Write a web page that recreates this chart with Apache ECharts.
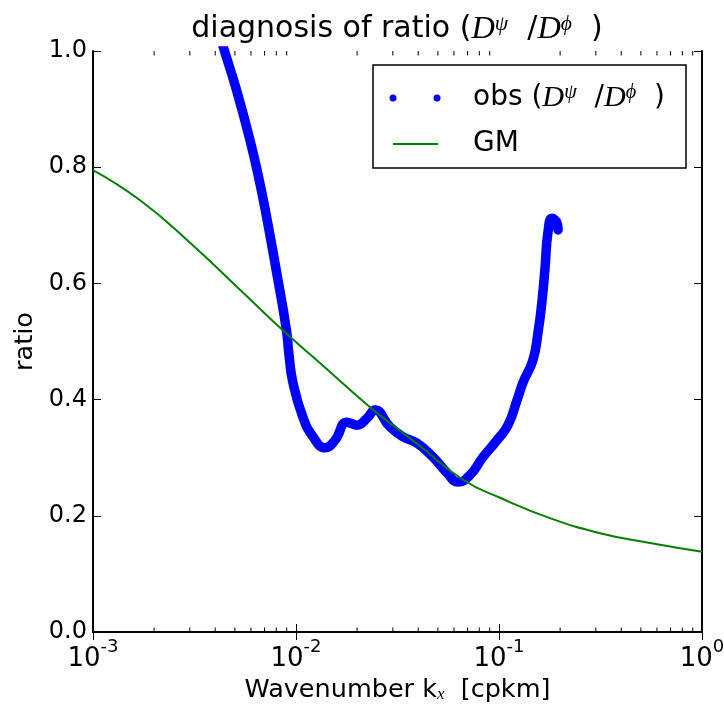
<!DOCTYPE html>
<html><head><meta charset="utf-8">
<script src="https://cdn.jsdelivr.net/npm/echarts@6/dist/echarts.min.js"></script>
<style>html,body{margin:0;padding:0;background:#fff}#c{width:724px;height:710px}</style>
</head><body><div id="c"></div>
<script>
// observed ratio D^psi / D^phi
const obsK = [0.00427,0.00447,0.005091,0.00593,0.006587,0.007212,0.008034,0.008968,0.00925,0.00966,0.01081,0.01213,0.0139,0.01556,0.01782,0.01995,0.0224,0.02449,0.02904,0.03365,0.03945,0.04731,0.05546,0.06281,0.07194,0.08337,0.09772,0.1107,0.1227,0.1312,0.1469,0.1556,0.163,0.1687,0.1741,0.1824,0.1932,0.1954];
const obsRatio = [1.02,0.997,0.933,0.847,0.778,0.709,0.618,0.52,0.475,0.429,0.37,0.336,0.317,0.33,0.361,0.356,0.368,0.382,0.353,0.336,0.325,0.301,0.274,0.258,0.27,0.301,0.33,0.356,0.399,0.429,0.468,0.515,0.571,0.628,0.687,0.712,0.704,0.692];
// GM model
const gmK = [0.001,0.001706,0.003006,0.005297,0.009141,0.01312,0.02317,0.0408,0.06653,0.1012,0.1782,0.3148,0.5546,1.0];
const gmRatio = [0.795,0.743,0.670,0.589,0.511,0.463,0.387,0.32,0.262,0.231,0.196,0.170,0.153,0.138];
// ticks
const yTicks = [0.0,0.2,0.4,0.6,0.8,1.0];
const xMin = 0.001, xMax = 1;
const minorK = [2e-3,3e-3,4e-3,5e-3,6e-3,7e-3,8e-3,9e-3,2e-2,3e-2,4e-2,5e-2,6e-2,7e-2,8e-2,9e-2,2e-1,3e-1,4e-1,5e-1,6e-1,7e-1,8e-1,9e-1];

const FF = 'DejaVu Sans';
const SERIF = 'Liberation Serif';
const chart = echarts.init(document.getElementById('c'), null, {renderer:'canvas'});

const mathRich = (fs) => ({
  t:{fontFamily:FF,fontSize:fs,color:'#000'},
  d:{fontFamily:SERIF,fontStyle:'italic',fontSize:fs*1.08,color:'#000'},
  s:{fontFamily:SERIF,fontStyle:'italic',fontSize:fs*0.72,color:'#000',verticalAlign:'top'}
});

const axisLineStyle = {color:'#000', width:2};
chart.setOption({
  animation:false,
  grid:{left:93,right:22,top:51,bottom:78,containLabel:false,outerBoundsMode:'none'},
  xAxis:[{
    type:'log', logBase:10, min:xMin, max:xMax,
    name:'{t|Wavenumber k}{x|x}{t|  [cpkm]}', nameLocation:'middle', nameGap:42,
    nameTextStyle:{rich:{t:{fontFamily:FF,fontSize:25.5,color:'#000'},x:{fontFamily:SERIF,fontStyle:'italic',fontSize:17,color:'#000',verticalAlign:'bottom'}}},
    axisLine:{lineStyle:axisLineStyle},
    axisTick:{inside:true,length:8,lineStyle:{color:'#000',width:1}},
    axisLabel:{margin:6,formatter:(v)=>'{b|10}{s|'+Math.round(Math.log10(v))+'}',
      rich:{b:{fontFamily:FF,fontSize:26,color:'#000',padding:[8,0,0,0]},s:{fontFamily:FF,fontSize:18,color:'#000',verticalAlign:'top'}}},
    splitLine:{show:false}
  },{
    type:'log', logBase:10, min:xMin, max:xMax, position:'top',
    axisLine:{lineStyle:axisLineStyle},
    axisTick:{inside:true,length:8,lineStyle:{color:'#000',width:1}},
    axisLabel:{show:false}, splitLine:{show:false}
  }],
  yAxis:[{
    type:'value', min:yTicks[0], max:yTicks[yTicks.length-1], interval:0.2,
    name:'ratio', nameLocation:'middle', nameGap:54,
    nameTextStyle:{fontFamily:FF,fontSize:25.5,color:'#000'},
    axisLine:{show:true,lineStyle:axisLineStyle},
    axisTick:{show:true,inside:true,length:8,lineStyle:{color:'#000',width:1}},
    axisLabel:{margin:6,fontFamily:FF,fontSize:24,color:'#000',formatter:(v)=>v.toFixed(1)},
    splitLine:{show:false}
  },{
    type:'value', min:yTicks[0], max:yTicks[yTicks.length-1], interval:0.2, position:'right',
    axisLine:{show:true,lineStyle:axisLineStyle},
    axisTick:{show:true,inside:true,length:8,lineStyle:{color:'#000',width:1}},
    axisLabel:{show:false}, splitLine:{show:false}
  }],
  series:[
    {
      type:'line', name:'GM', data:gmK.map((k,i)=>[k,gmRatio[i]]),
      smooth:0.5, showSymbol:false, symbol:'none',
      lineStyle:{color:'#008000',width:2}, z:3
    },
    {
      type:'line', name:'obs', data:obsK.map((k,i)=>[k,obsRatio[i]]),
      smooth:0.5, showSymbol:false, symbol:'none', clip:true,
      lineStyle:{color:'#0000ff',width:9.5,cap:'round',join:'round'}, z:2
    },
    {
      type:'custom', silent:true, clip:false, z:5,
      data:minorK.map(k=>[k,0]), encode:{x:0,y:1},
      renderItem:(params,api)=>{
        const v = api.value(0);
        const b = api.coord([v,yTicks[0]]);
        const t = api.coord([v,yTicks[yTicks.length-1]]);
        return {type:'group',children:[
          {type:'line',shape:{x1:b[0],y1:b[1],x2:b[0],y2:b[1]-4.5},style:{stroke:'#000',lineWidth:1}},
          {type:'line',shape:{x1:t[0],y1:t[1],x2:t[0],y2:t[1]+4.5},style:{stroke:'#000',lineWidth:1}}
        ]};
      }
    }
  ],
  graphic:[
    {type:'text', x:397, y:29, z:10, style:{
      text:'{t|diagnosis of ratio (}{d|D}{s|ψ}{t|  /}{d|D}{s|ϕ}{t|  )}',
      rich:mathRich(30), align:'center', verticalAlign:'middle'}},
    {type:'rect', shape:{x:373,y:65,width:313,height:103}, z:10,
      style:{fill:'#fff',stroke:'#000',lineWidth:1.5}},
    {type:'circle', shape:{cx:393,cy:98,r:3.5}, z:11, style:{fill:'#0000ff'}},
    {type:'circle', shape:{cx:437,cy:98,r:3.5}, z:11, style:{fill:'#0000ff'}},
    {type:'line', shape:{x1:393,y1:144,x2:438,y2:144}, z:11, style:{stroke:'#008000',lineWidth:2}},
    {type:'text', x:473, y:98, z:11, style:{
      text:'{t|obs (}{d|D}{s|ψ}{t|  /}{d|D}{s|ϕ}{t|  )}', rich:mathRich(28), align:'left', verticalAlign:'middle'}},
    {type:'text', x:473, y:144, z:11, style:{
      text:'GM', fontFamily:FF, fontSize:28, fill:'#000', align:'left', verticalAlign:'middle'}}
  ]
});
</script>
</body></html>
